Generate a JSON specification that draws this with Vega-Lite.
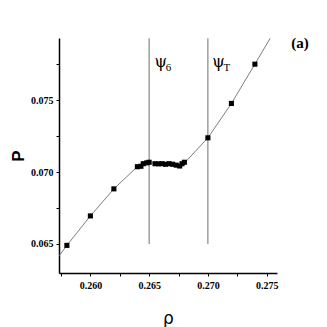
{
  "$schema": "https://vega.github.io/schema/vega-lite/v6.json",
  "width": 218,
  "height": 235,
  "autosize": "none",
  "padding": {"left": 59, "top": 38, "right": 50, "bottom": 54},
  "background": "white",
  "config": {
    "view": {"stroke": null},
    "axis": {
      "grid": false,
      "domainColor": "black", "domainWidth": 1.5,
      "tickColor": "black", "tickSize": 3, "tickWidth": 1,
      "labelFont": "Liberation Sans Narrow", "labelFontWeight": "bold", "labelFontSize": 10, "labelColor": "black",
      "labelOverlap": false, "labelFlush": false,
      "titleColor": "black"
    },
    "axisX": {"labelPadding": 4, "titleFont": "DejaVu Sans", "titleFontWeight": "normal", "titleFontSize": 17, "titlePadding": 20},
    "axisY": {"labelPadding": 3, "titleFont": "Liberation Sans", "titleFontWeight": "bold", "titleFontSize": 17, "titlePadding": 3}
  },
  "datasets": {
    "pts": [
      {"rho": 0.258, "P": 0.0649},
      {"rho": 0.260, "P": 0.06695},
      {"rho": 0.262, "P": 0.06883},
      {"rho": 0.2640, "P": 0.07037},
      {"rho": 0.2643, "P": 0.07040},
      {"rho": 0.2645, "P": 0.07058},
      {"rho": 0.2648, "P": 0.07064},
      {"rho": 0.2650, "P": 0.07068},
      {"rho": 0.2655, "P": 0.07058},
      {"rho": 0.2658, "P": 0.07057},
      {"rho": 0.2661, "P": 0.07058},
      {"rho": 0.2664, "P": 0.07054},
      {"rho": 0.2667, "P": 0.07058},
      {"rho": 0.2670, "P": 0.07054},
      {"rho": 0.2673, "P": 0.07048},
      {"rho": 0.2676, "P": 0.07042},
      {"rho": 0.2678, "P": 0.07058},
      {"rho": 0.2680, "P": 0.07068},
      {"rho": 0.270, "P": 0.07238},
      {"rho": 0.272, "P": 0.07477},
      {"rho": 0.274, "P": 0.0775}
    ],
    "curve": [
      {"rho": 0.2573, "P": 0.06414},
      {"rho": 0.258, "P": 0.0649},
      {"rho": 0.260, "P": 0.06695},
      {"rho": 0.262, "P": 0.06883},
      {"rho": 0.2640, "P": 0.07037},
      {"rho": 0.2650, "P": 0.07064},
      {"rho": 0.2660, "P": 0.07058},
      {"rho": 0.2670, "P": 0.07054},
      {"rho": 0.2676, "P": 0.07045},
      {"rho": 0.2680, "P": 0.07062},
      {"rho": 0.270, "P": 0.07238},
      {"rho": 0.272, "P": 0.07477},
      {"rho": 0.274, "P": 0.0775},
      {"rho": 0.2753, "P": 0.0793}
    ],
    "vlines": [
      {"rho": 0.265, "P": 0.065, "P2": 0.0793},
      {"rho": 0.270, "P": 0.065, "P2": 0.0793}
    ],
    "psi": [
      {"rho": 0.26598, "P": 0.07768, "sub": "6"},
      {"rho": 0.27090, "P": 0.07768, "sub": "T"}
    ],
    "tag": [
      {"rho": 0.27784, "P": 0.07897, "label": "(a)"}
    ]
  },
  "encoding": {
    "x": {
      "field": "rho", "type": "quantitative",
      "scale": {"domain": [0.25733, 0.27588], "nice": false, "zero": false},
      "axis": {
        "title": "ρ",
        "values": [0.2575, 0.26, 0.2625, 0.265, 0.2675, 0.27, 0.2725, 0.275],
        "labelExpr": "indexof(['0.260','0.265','0.270','0.275'], format(datum.value, '.3f')) >= 0 ? format(datum.value, '.3f') : ''"
      }
    },
    "y": {
      "field": "P", "type": "quantitative",
      "scale": {"domain": [0.06298, 0.07932], "nice": false, "zero": false},
      "axis": {
        "title": "P",
        "values": [0.065, 0.0675, 0.07, 0.0725, 0.075, 0.0775],
        "labelExpr": "indexof(['0.065','0.070','0.075'], format(datum.value, '.3f')) >= 0 ? format(datum.value, '.3f') : ''"
      }
    }
  },
  "layer": [
    {
      "data": {"name": "curve"},
      "mark": {"type": "line", "color": "#6f6f6f", "strokeWidth": 0.9, "clip": true}
    },
    {
      "data": {"name": "vlines"},
      "mark": {"type": "rule", "color": "#6f6f6f", "strokeWidth": 1},
      "encoding": {
        "y2": {"field": "P2"}
      }
    },
    {
      "data": {"name": "pts"},
      "mark": {"type": "square", "color": "black", "opacity": 1, "size": 26, "filled": true}
    },
    {
      "data": {"name": "psi"},
      "mark": {"type": "text", "text": "ψ", "font": "DejaVu Serif", "fontSize": 16, "color": "black", "align": "center", "baseline": "middle"}
    },
    {
      "data": {"name": "psi"},
      "mark": {"type": "text", "font": "Liberation Serif", "fontSize": 11, "color": "black", "align": "left", "baseline": "middle", "dx": 5, "dy": 6},
      "encoding": {
        "text": {"field": "sub"}
      }
    },
    {
      "data": {"name": "tag"},
      "mark": {"type": "text", "font": "Liberation Sans Narrow", "fontWeight": "bold", "fontSize": 15, "color": "black", "align": "center", "baseline": "middle"},
      "encoding": {
        "text": {"field": "label"}
      }
    }
  ]
}
